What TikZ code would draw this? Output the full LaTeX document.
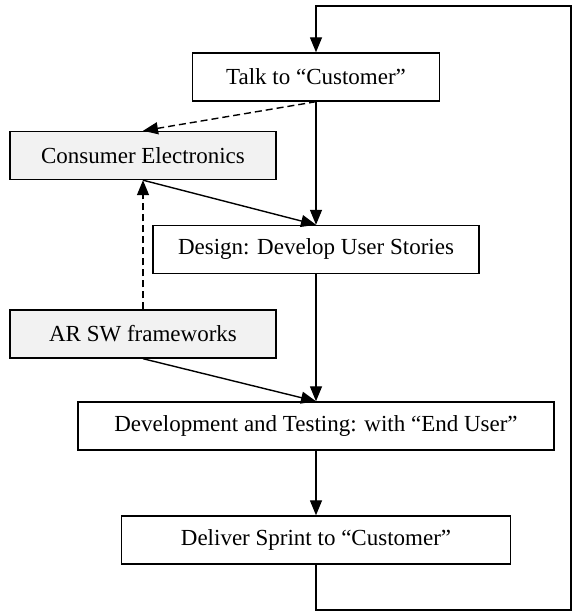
\documentclass[tikz,border=0pt]{standalone}
\usepackage{fontspec}
\setmainfont{Liberation Serif}
\usetikzlibrary{arrows.meta}
\begin{document}
\begin{tikzpicture}[x=1pt,y=1pt,>={Triangle[width=12pt,length=15pt]},line width=1.4pt,
  font=\fontsize{23}{27}\selectfont,
  box/.style={draw,minimum height=48pt,inner sep=0pt},
  src/.style={box,fill=black!5}]
  \useasboundingbox (0,0) rectangle (576,612);
  \node[box,minimum width=247pt] (talk) at (316,535) {Talk to “Customer”};
  \node[src,minimum width=266pt] (cons) at (143,456.5) {Consumer Electronics};
  \node[box,minimum width=326pt] (design) at (316,362.5) {Design: Develop User Stories};
  \node[src,minimum width=266pt] (arsw) at (143,278) {AR SW frameworks};
  \node[box,minimum width=476pt] (devtest) at (316,186) {Development and Testing: with “End User”};
  \node[box,minimum width=389pt] (deliver) at (316,72) {Deliver Sprint to “Customer”};
  \coordinate (lpa) at (316,2);
  \coordinate (lpb) at (571,2);
  \coordinate (lpc) at (571,606);
  \coordinate (lpd) at (316,606);
  \draw[->] (talk.south)--(design.north);
  \draw[->] (design.south)--(devtest.north);
  \draw[->] (devtest.south)--(deliver.north);
  \draw[->,dash pattern=on 7pt off 4pt] (talk.south)--(cons.north);
  \draw[->,dash pattern=on 7pt off 4pt] (arsw.north)--(cons.south);
  \draw[->] (cons.south)--(design.north);
  \draw[->] (arsw.south)--(devtest.north);
  \draw[->] (deliver.south)--(lpa)--(lpb)--(lpc)--(lpd)--(talk.north);
\end{tikzpicture}
\end{document}
